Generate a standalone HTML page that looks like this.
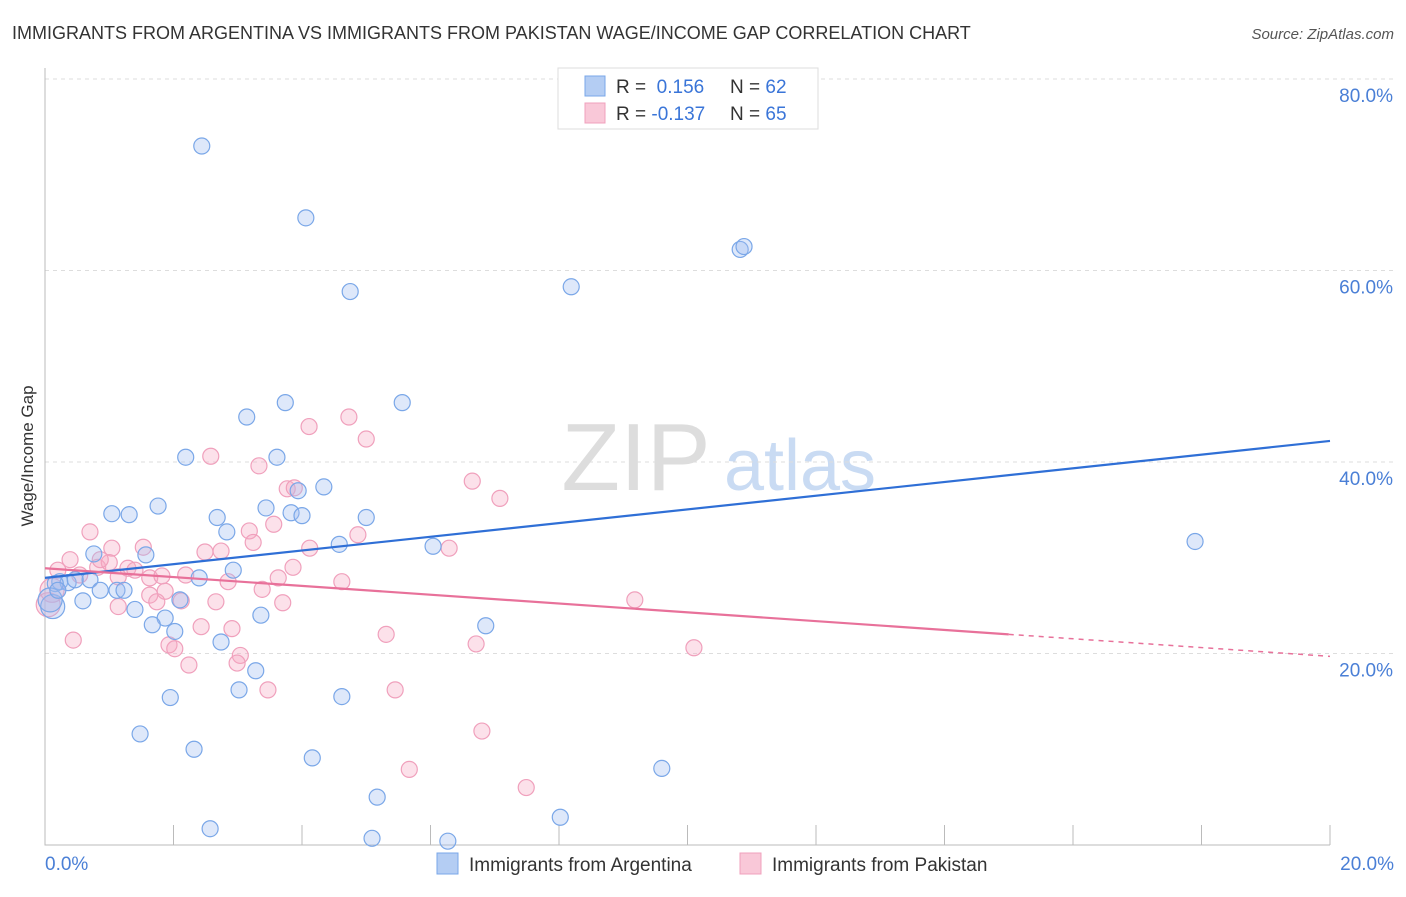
<!DOCTYPE html>
<html><head><meta charset="utf-8"><style>
body{margin:0;background:#fff;font-family:"Liberation Sans",sans-serif;}
svg text{font-family:"Liberation Sans",sans-serif;}
</style></head><body>
<svg id="chart" width="1406" height="892" xmlns="http://www.w3.org/2000/svg">
<text x="12" y="39" font-size="18" fill="#333">IMMIGRANTS FROM ARGENTINA VS IMMIGRANTS FROM PAKISTAN WAGE/INCOME GAP CORRELATION CHART</text>
<text x="1394" y="39" font-size="15" fill="#555" text-anchor="end" font-style="italic">Source: ZipAtlas.com</text>
<text transform="translate(33,456) rotate(-90)" font-size="17" fill="#333" text-anchor="middle">Wage/Income Gap</text>
<g>
<text x="636" y="490" font-size="96" fill="#ddd" text-anchor="middle" font-family="Liberation Serif">ZIP</text>
<text x="800" y="490" font-size="72" fill="#c9dbf3" text-anchor="middle">atlas</text>
</g>
<g id="grid"></g><g id="axes"></g><g id="pts"></g><g id="lines"></g>
<g>
<rect x="558" y="68" width="260" height="61" fill="#fff" stroke="#ddd"/>
<rect x="585" y="76" width="20" height="20" fill="#b4cdf3" stroke="#7aa7e8"/>
<rect x="585" y="103" width="20" height="20" fill="#f9c8d8" stroke="#f0a0bc"/>
<text x="616" y="93" font-size="19" fill="#333">R = <tspan fill="#3a75d8">&#160;0.156</tspan></text>
<text x="730" y="93" font-size="19" fill="#333">N = <tspan fill="#3a75d8">62</tspan></text>
<text x="616" y="120" font-size="19" fill="#333">R = <tspan fill="#3a75d8">-0.137</tspan></text>
<text x="730" y="120" font-size="19" fill="#333">N = <tspan fill="#3a75d8">65</tspan></text>
</g>
<g>
<rect x="437" y="853" width="21" height="21" fill="#b4cdf3" stroke="#7aa7e8"/>
<text x="469" y="871" font-size="19" fill="#333">Immigrants from Argentina</text>
<rect x="740" y="853" width="21" height="21" fill="#f9c8d8" stroke="#f0a0bc"/>
<text x="772" y="871" font-size="19" fill="#333">Immigrants from Pakistan</text>
</g>
</svg>
<script>
const yTicks=[20,40,60,80];
const xTickLabels=["0.0%","20.0%"];
const blueX=[2.44,4.06,4.75,8.19,10.82,10.88,3.14,3.74,5.56,2.19,3.61,4.34,3.94,1.76,1.04,1.31,2.68,3.44,3.83,4.00,5.00,2.83,4.58,6.04,17.90,0.76,1.57,2.93,2.40,0.70,0.23,0.36,0.47,0.16,0.86,1.12,1.23,0.59,2.10,1.40,1.87,3.36,1.67,2.02,6.86,2.74,3.28,3.02,1.95,4.62,1.48,2.32,4.16,9.60,5.17,8.02,2.57,5.09,6.27,0.12,0.08,0.20];
const blueY=[73.0,65.5,57.8,58.3,62.2,62.5,44.7,46.2,46.2,40.5,40.5,37.4,37.0,35.4,34.6,34.5,34.2,35.2,34.7,34.4,34.2,32.7,31.4,31.2,31.7,30.4,30.3,28.7,27.9,27.7,27.5,27.4,27.7,27.3,26.6,26.6,26.6,25.5,25.6,24.6,23.7,24.0,23.0,22.3,22.9,21.2,18.2,16.2,15.4,15.5,11.6,10.0,9.1,8.0,5.0,2.9,1.7,0.7,0.4,24.9,25.6,26.6];
const pinkX=[0.39,0.70,1.04,1.53,0.82,1.00,1.29,1.14,1.40,1.63,1.82,2.19,2.49,2.58,2.74,3.18,3.24,3.33,3.56,3.77,4.11,3.88,4.12,4.73,5.00,4.87,6.65,7.08,6.29,3.63,2.85,3.38,4.62,1.87,1.63,2.12,1.74,2.66,3.70,1.14,3.86,2.43,2.91,0.44,1.93,2.02,2.24,3.04,2.99,3.47,5.31,6.71,9.18,10.10,5.45,6.80,5.67,7.49,0.20,0.05,0.11,0.54,0.86];
const pinkY=[29.8,32.7,31.0,31.1,29.0,29.5,28.9,28.0,28.7,27.9,28.1,28.2,30.6,40.6,30.7,32.8,31.6,39.6,33.5,37.2,43.7,37.3,31.0,44.7,42.4,32.4,38.0,36.2,31.0,27.9,27.5,26.7,27.5,26.5,26.1,25.5,25.4,25.4,25.3,24.9,29.0,22.8,22.6,21.4,20.9,20.5,18.8,19.8,19.0,16.2,22.0,21.0,25.6,20.6,16.2,11.9,7.9,6.0,28.7,25.1,26.6,28.2,29.8];
const blueTrend=[27.9,42.2];
const pinkTrend=[28.9,19.7];
const pinkSolidEnd=15.0;
const NS="http://www.w3.org/2000/svg";
const X=v=>45+v/20*1285, Y=v=>845-v*9.575;
function mk(t,a,p){const e=document.createElementNS(NS,t);for(const k in a)e.setAttribute(k,a[k]);p.appendChild(e);return e;}
const grid=document.getElementById('grid'),axes=document.getElementById('axes'),pts=document.getElementById('pts'),lines=document.getElementById('lines');
yTicks.forEach(v=>{
 const l=mk('line',{x1:45,x2:1394,y1:Y(v),y2:Y(v),stroke:'#ddd','stroke-dasharray':'4,4'},grid);
 
 
 const t=mk('text',{x:1393,y:Y(v)+23,'font-size':19,fill:'#4a7fd6','text-anchor':'end'},grid);t.textContent=v.toFixed(1)+'%';
 
 
});
const ax=mk('path',{d:'M45,68V845H1330',stroke:'#bbb',fill:'none'},axes);


for(let i=0;i<=10;i++){const tk=mk('line',{x1:X(i*2),x2:X(i*2),y1:825,y2:845,stroke:'#bbb'},axes);
 
 }
[[0,'start',45],[1,'end',1394]].forEach(([i,an,x])=>{const t=mk('text',{x:x,y:870,'font-size':19,fill:'#4a7fd6','text-anchor':an},axes);t.textContent=xTickLabels[i];
 
 });
function dots(xs,ys,fill,stroke,name){xs.forEach((x,i)=>{const big=x<0.15;const c=mk('circle',{cx:X(x),cy:Y(ys[i]),r:big?12:8,fill:fill,stroke:stroke,'stroke-width':1.2},pts);
 
 });}
dots(pinkX,pinkY,'rgba(245,170,195,0.35)','#f0a0bc','pakistan-point');
dots(blueX,blueY,'rgba(160,190,240,0.35)','#7aa7e8','argentina-point');
const bl=mk('line',{x1:X(0),y1:Y(blueTrend[0]),x2:X(20),y2:Y(blueTrend[1]),stroke:'#2f6fd6','stroke-width':2.2},lines);


const pm=pinkTrend[0]+(pinkTrend[1]-pinkTrend[0])*pinkSolidEnd/20;
const pl=mk('line',{x1:X(0),y1:Y(pinkTrend[0]),x2:X(pinkSolidEnd),y2:Y(pm),stroke:'#e8719a','stroke-width':2.2},lines);


const pd=mk('line',{x1:X(pinkSolidEnd),y1:Y(pm),x2:X(20),y2:Y(pinkTrend[1]),stroke:'#e8719a','stroke-width':1.5,'stroke-dasharray':'5,5'},lines);


</script>
</body></html>
